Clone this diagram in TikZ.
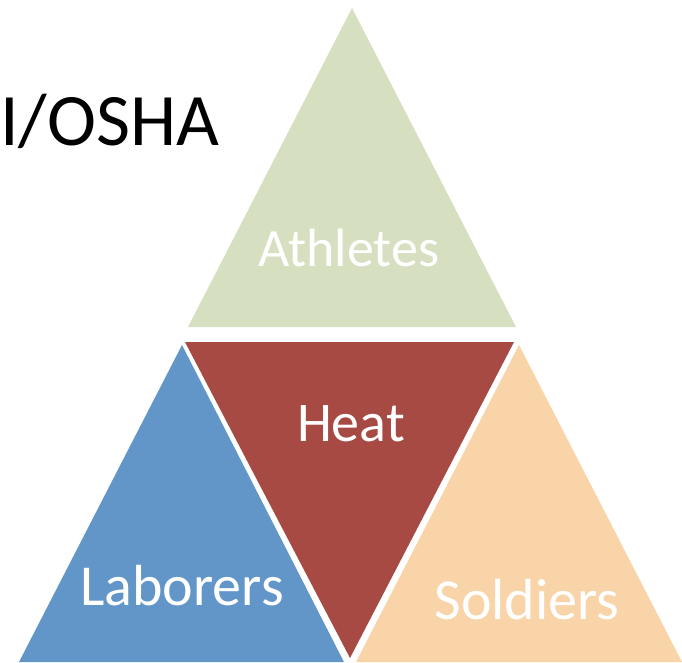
\documentclass[tikz,border=0pt]{standalone}
\usepackage{fontspec}
\setmainfont{Carlito}
\definecolor{sage}{RGB}{214,223,192}
\definecolor{brick}{RGB}{167,74,68}
\definecolor{steel}{RGB}{98,150,201}
\definecolor{peach}{RGB}{248,212,168}
\tikzset{tri label/.style={text=white,inner sep=0pt,anchor=base,font=\fontsize{#1}{60}\selectfont},
  tri label/.default=56}

\begin{document}
\begin{tikzpicture}[x=1pt,y=-1pt]
\useasboundingbox (0,0) rectangle (682,662);
% top triangle
\coordinate (AthTop) at (352,8);
\coordinate (AthL) at (188,327);
\coordinate (AthR) at (516,327);
\fill[sage] (AthTop) -- (AthR) -- (AthL) -- cycle;
% middle, upside down
\coordinate (HeatL) at (185,342);
\coordinate (HeatR) at (514,342);
\coordinate (HeatBot) at (350,658);
\fill[brick] (HeatL) -- (HeatR) -- (HeatBot) -- cycle;
% bottom left
\coordinate (LabTop) at (182,345);
\coordinate (LabL) at (19,662);
\coordinate (LabR) at (344,662);
\fill[steel] (LabTop) -- (LabR) -- (LabL) -- cycle;
% bottom right
\coordinate (SolTop) at (519,345);
\coordinate (SolL) at (356,662);
\coordinate (SolR) at (682,662);
\fill[peach] (SolTop) -- (SolR) -- (SolL) -- cycle;
\node[tri label=54] (athletes) at (349,266) {Athletes};
\node[tri label] (heat) at (351,441) {Heat};
\node[tri label=58] (laborers) at (182,605) {Laborers};
\node[tri label=58] (soldiers) at (527,619) {Soldiers};
\node[inner sep=0pt,anchor=base west,font=\fontsize{74}{80}\selectfont] (agency) at (0,145) {I/OSHA};
\end{tikzpicture}
\end{document}
